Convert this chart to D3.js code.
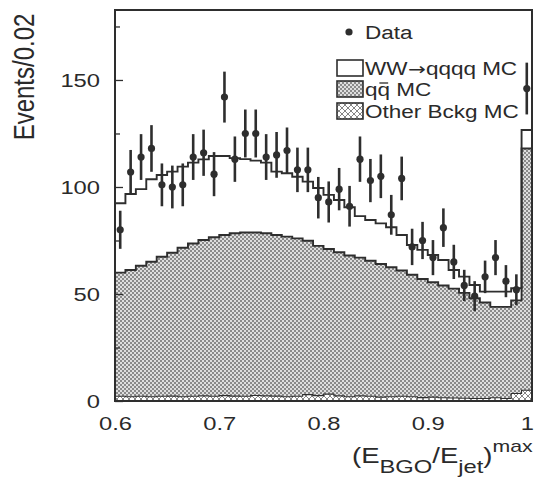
<!DOCTYPE html>
<html><head><meta charset="utf-8">
<script src="https://cdn.jsdelivr.net/npm/d3@7"></script>
<style>body{margin:0;background:#fff}svg{display:block}text{font-family:"Liberation Sans",Arial,Helvetica,sans-serif;fill:#2a2a2a}</style>
</head><body>
<script>
// ---- data (bins of width 0.01 from 0.60 to 1.00) ----
const binLow = [0.60,0.61,0.62,0.63,0.64,0.65,0.66,0.67,0.68,0.69,0.70,0.71,0.72,0.73,0.74,0.75,0.76,0.77,0.78,0.79,
                0.80,0.81,0.82,0.83,0.84,0.85,0.86,0.87,0.88,0.89,0.90,0.91,0.92,0.93,0.94,0.95,0.96,0.97,0.98,0.99];
const dataCounts = [80,107,114,118,101,100,101,114,116,106,142,113,125,125,114,115,117,108,108,95,
                    93,99,91,113,103,105,87,104,72,75,67,81,65,54,49,58,67,56,52,146];
const dataErrors = [8.9,10.3,10.7,10.9,10.0,10.0,10.0,10.7,10.8,10.3,11.9,10.6,11.2,11.2,10.7,10.7,10.8,10.4,10.4,9.7,
                    9.6,9.9,9.5,10.6,10.1,10.2,9.3,10.2,8.5,8.7,8.2,9.0,8.0,7.3,7.0,7.6,8.2,7.5,7.2,12.1];
const otherMC = [2.2,2.0,2.2,2.0,2.2,2.3,2.0,2.2,2.4,2.2,2.5,2.3,2.2,2.6,2.4,2.3,2.0,2.2,3.0,2.5,
                 3.2,2.4,2.0,2.4,2.2,1.8,2.0,2.2,2.0,1.6,1.8,1.5,1.4,1.3,1.2,1.2,1.5,1.2,3.5,5.0];
const qqMC = [57.8,59.2,61.0,63.1,65.2,67.0,69.6,71.4,72.8,74.3,75.1,76.1,76.5,76.1,76.0,75.3,74.8,73.8,71.9,70.0,
              67.8,67.1,66.0,64.6,63.3,62.2,60.5,58.8,57.0,55.4,53.7,52.5,51.1,49.2,46.8,44.8,42.5,42.8,43.5,113.0];
const wwMC = [32.4,35.5,35.8,38.5,38.2,37.9,37.9,37.8,37.7,38.0,36.9,35.1,34.3,33.6,33.0,29.6,29.6,28.8,27.6,27.0,
              25.3,24.4,22.5,19.4,19.1,19.0,18.7,16.6,13.9,13.6,12.7,11.9,8.7,7.6,6.2,5.1,7.1,7.1,5.7,8.6];
const binWidth = 0.01;
const xTicks = [0.6,0.7,0.8,0.9,1.0];
const yMajorTicks = [0,50,100,150];
const yMinorTicks = [25,75,125,175];
const legendLabels = [["Data"],["WW","\u2192","qqqq MC"],["qq MC"],["Other Bckg MC"]];
const yLabel = "Events/0.02";

// ---- setup ----
const W = 535, H = 486;
const svg = d3.select("body").append("svg").attr("width",W).attr("height",H);
const x = d3.scaleLinear().domain([0.6,1.0]).range([115,532]);
const y = d3.scaleLinear().domain([0,182.7]).range([401,10]);
const ink = "#2e2e2e";

const defs = svg.append("defs");
const chk = defs.append("pattern").attr("id","chk").attr("width",4).attr("height",4).attr("patternUnits","userSpaceOnUse");
chk.append("rect").attr("width",4).attr("height",4).attr("fill","#dedede");
chk.append("rect").attr("width",2).attr("height",2).attr("fill","#8a8a8a");
chk.append("rect").attr("x",2).attr("y",2).attr("width",2).attr("height",2).attr("fill","#8a8a8a");
const xh = defs.append("pattern").attr("id","xh").attr("width",6).attr("height",6).attr("patternUnits","userSpaceOnUse");
xh.append("rect").attr("width",6).attr("height",6).attr("fill","#fff");
xh.append("path").attr("d","M0,0L6,6M6,0L0,6").attr("stroke","#777").attr("stroke-width",0.9);

// stacked histogram
const rows = binLow.map((b,i)=>({x:b, other:otherMC[i], qq:qqMC[i], ww:wwMC[i]}));
const stacked = d3.stack().keys(["other","qq","ww"])(rows);
function withEnd(layer){
  const pts = layer.map(d=>({x:d.data.x, y0:d[0], y1:d[1]}));
  const last = pts[pts.length-1];
  pts.push({x:last.x+binWidth, y0:last.y0, y1:last.y1});
  return pts;
}
const area = d3.area().curve(d3.curveStepAfter).x(d=>x(d.x)).y0(d=>y(d.y0)).y1(d=>y(d.y1));
const line = d3.line().curve(d3.curveStepAfter).x(d=>x(d.x)).y(d=>y(d.y1));
const L = stacked.map(withEnd);

svg.append("path").attr("d",area(L[1])).attr("fill","url(#chk)");
svg.append("path").attr("d",area(L[0])).attr("fill","url(#xh)");
svg.append("path").attr("d",line(L[0])).attr("fill","none").attr("stroke",ink).attr("stroke-width",1.1);
svg.append("path").attr("d",line(L[1])).attr("fill","none").attr("stroke",ink).attr("stroke-width",1.9);
svg.append("path").attr("d",line(L[2])).attr("fill","none").attr("stroke",ink).attr("stroke-width",1.9);

// data points
const pts = binLow.map((b,i)=>({x:b+binWidth/2, v:dataCounts[i], e:dataErrors[i]}));
const gp = svg.append("g");
gp.selectAll("line.err").data(pts).join("line").attr("class","err")
  .attr("x1",d=>x(d.x)).attr("x2",d=>x(d.x))
  .attr("y1",d=>y(d.v-d.e)).attr("y2",d=>y(d.v+d.e))
  .attr("stroke",ink).attr("stroke-width",2.6);
gp.selectAll("circle").data(pts).join("circle")
  .attr("cx",d=>x(d.x)).attr("cy",d=>y(d.v)).attr("r",3.6).attr("fill",ink);

// frame
svg.append("rect").attr("x",115).attr("y",10).attr("width",417).attr("height",391)
  .attr("fill","none").attr("stroke",ink).attr("stroke-width",2);

// y axis ticks (inward)
const gyMaj = svg.append("g").attr("transform","translate(115,0)")
  .call(d3.axisRight(y).tickValues(yMajorTicks).tickSize(8).tickFormat(""));
const gyMin = svg.append("g").attr("transform","translate(115,0)")
  .call(d3.axisRight(y).tickValues(yMinorTicks).tickSize(5).tickFormat(""));
[gyMaj,gyMin].forEach(g=>{g.select(".domain").remove();g.selectAll("line").attr("stroke",ink).attr("stroke-width",1.3);});

// y labels
const gyl = svg.append("g").attr("transform","translate(115,0)")
  .call(d3.axisLeft(y).tickValues(yMajorTicks).tickSize(0));
gyl.select(".domain").remove();
gyl.selectAll("text").attr("x",-12).attr("dy","0.36em").attr("transform","scale(1.25,1)")
  .attr("font-size",19).attr("fill","#2a2a2a").attr("font-family",null);

// x labels
const gxl = svg.append("g").attr("transform","translate(0,401)")
  .call(d3.axisBottom(x).tickValues(xTicks).tickSize(0).tickFormat(d=>d===1?"1":d.toFixed(1)));
gxl.select(".domain").remove();
gxl.selectAll("text").attr("y",29).attr("dy",0).attr("transform","scale(1.25,1)")
  .attr("font-size",19).attr("fill","#2a2a2a").attr("font-family",null);
gxl.selectAll("text").filter(d=>d===1).attr("text-anchor","end").attr("x",1.2);

// y title
svg.append("text").attr("transform","translate(34,77) scale(1.25,1) rotate(-90)")
  .attr("text-anchor","middle").attr("font-size",24).text(yLabel);

// x title
const xt = svg.append("text").attr("transform","translate(352,463) scale(1.25,1)").attr("font-size",22);
xt.append("tspan").text("(E");
xt.append("tspan").attr("font-size",19).attr("dy",10).text("BGO");
xt.append("tspan").attr("dy",-10).text("/E");
xt.append("tspan").attr("font-size",19).attr("dy",10).text("jet");
xt.append("tspan").attr("dy",-10).text(")");
xt.append("tspan").attr("font-size",17).attr("dy",-11).text("max");

// legend
const lg = svg.append("g");
lg.append("circle").attr("cx",349).attr("cy",32).attr("r",3.6).attr("fill",ink);
lg.append("rect").attr("x",337).attr("y",60).attr("width",26).attr("height",16).attr("fill","#fff").attr("stroke",ink).attr("stroke-width",1.6);
lg.append("rect").attr("x",337).attr("y",81).attr("width",26).attr("height",16).attr("fill","url(#chk)").attr("stroke",ink).attr("stroke-width",1.6);
lg.append("rect").attr("x",337).attr("y",103).attr("width",26).attr("height",16).attr("fill","url(#xh)").attr("stroke",ink).attr("stroke-width",1.6);
const lyBase = [38.5,74.5,95.5,117.5];
legendLabels.forEach((parts,i)=>{
  const g = lg.append("g").attr("transform",`translate(365,${lyBase[i]}) scale(1.25,1)`);
  const tx = g.append("text").attr("font-size",18);
  parts.forEach(p=>{
    const ts = tx.append("tspan").text(p);
    if(p==="\u2192") ts.attr("font-family","DejaVu Sans").attr("font-size",17).attr("dx",0.5);
  });
  if(i===2){
    const s = tx.node().getStartPositionOfChar(1).x;
    const w = tx.node().getSubStringLength(1,1);
    g.append("line").attr("x1",s+1.5).attr("x2",s+w-1.5).attr("y1",-12.5).attr("y2",-12.5)
      .attr("stroke","#2a2a2a").attr("stroke-width",1.3);
  }
});
</script>
</body></html>
